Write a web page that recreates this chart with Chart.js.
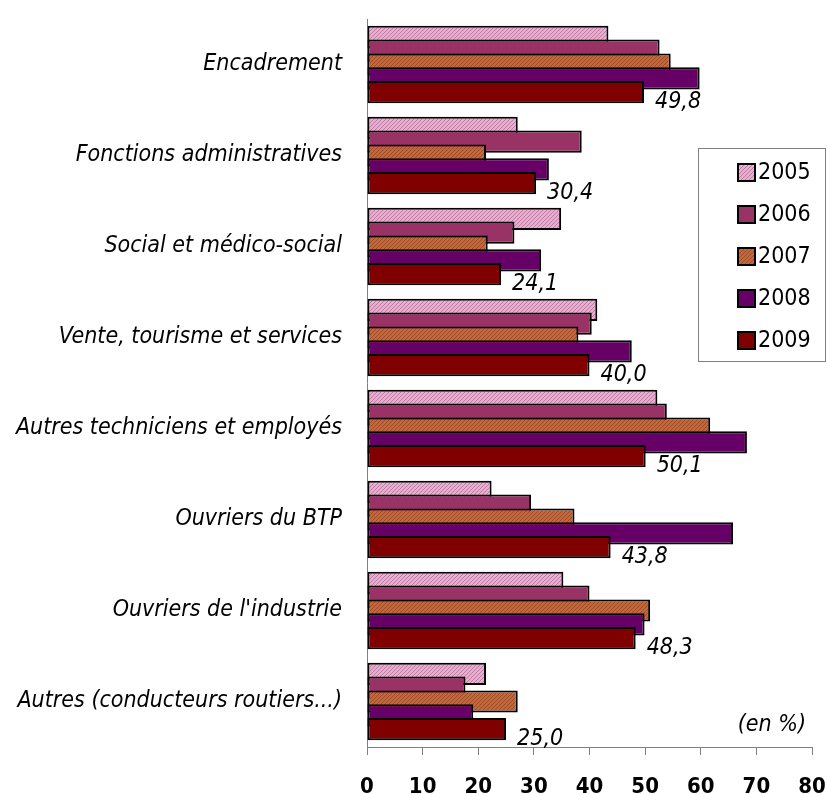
<!DOCTYPE html>
<html>
<head>
<meta charset="utf-8">
<script src="https://cdn.jsdelivr.net/npm/chart.js@4.4.1/dist/chart.umd.min.js"></script>
<style>
    html, body { margin: 0; padding: 0; background: #fff; }
    #wrap { width: 827px; height: 794px; }
</style>
</head>
<body>
<div id="wrap"><canvas id="chart" width="827" height="794"></canvas></div>
<script>
// Données (en %)
const categories = [
    "Encadrement",
    "Fonctions administratives",
    "Social et médico-social",
    "Vente, tourisme et services",
    "Autres techniciens et employés",
    "Ouvriers du BTP",
    "Ouvriers de l'industrie",
    "Autres (conducteurs routiers...)"
];
const years = ["2005", "2006", "2007", "2008", "2009"];
const v2005 = [43.4, 27.1, 34.9, 41.4, 52.2, 22.4, 35.3, 21.4];
const v2006 = [52.6, 38.6, 26.5, 40.4, 53.9, 29.5, 40.0, 17.7];
const v2007 = [54.6, 21.4, 21.7, 38.0, 61.7, 37.3, 50.9, 27.1];
const v2008 = [59.8, 32.7, 31.3, 47.6, 68.3, 65.8, 49.9, 19.1];
const v2009 = [49.8, 30.4, 24.1, 40.0, 50.1, 43.8, 48.3, 25.0];
const xTicks = [0, 10, 20, 30, 40, 50, 60, 70, 80];

const NARROW = "'Liberation Sans Narrow', 'Arial Narrow', 'DejaVu Sans Condensed', sans-serif";

// petits motifs pointillés façon Excel
function makePattern(base, dot) {
    const c = document.createElement('canvas');
    c.width = 4; c.height = 4;
    const g = c.getContext('2d');
    g.fillStyle = base;
    g.fillRect(0, 0, 4, 4);
    g.fillStyle = dot;
    g.fillRect(0, 0, 1, 1);
    g.fillRect(2, 2, 1, 1);
    g.fillRect(1, 3, 1, 1);
    g.fillRect(3, 1, 1, 1);
    return document.createElement('canvas').getContext('2d').createPattern(c, 'repeat');
}

const fills = [
    makePattern('#e3b0cf', '#c07aa2'),
    '#993366',
    makePattern('#c4683c', '#9c4a26'),
    '#660066',
    '#800000'
];
const seriesValues = [v2005, v2006, v2007, v2008, v2009];

// dessiner les séries dans l'ordre (2009 au-dessus)
const drawOrder = {
    id: 'drawOrder',
    beforeDatasetsDraw(chart) {
        chart.data.datasets.forEach((ds, i) => {
            const meta = chart.getDatasetMeta(i);
            if (meta.visible) meta.controller.draw();
        });
        return false;
    }
};

const extras = {
    id: 'extras',
    afterDraw(chart) {
        const ctx = chart.ctx;
        ctx.save();

        // étiquettes 2009
        const meta = chart.getDatasetMeta(4);
        ctx.font = "italic 23px " + NARROW;
        ctx.fillStyle = '#000';
        ctx.textAlign = 'left';
        ctx.textBaseline = 'middle';
        meta.data.forEach((bar, i) => {
            const txt = v2009[i].toFixed(1).replace('.', ',');
            ctx.fillText(txt, bar.x + 11, bar.y + 10);
        });

        // (en %)
        ctx.textAlign = 'right';
        ctx.fillText("(en %)", chart.chartArea.right - 6, 725);

        // légende
        const lx = 698, ly = 148, lw = 128, lh = 214;
        ctx.fillStyle = '#fff';
        ctx.fillRect(lx, ly, lw, lh);
        ctx.strokeStyle = '#808080';
        ctx.lineWidth = 1;
        ctx.strokeRect(lx + 0.5, ly + 0.5, lw - 1, lh - 1);
        ctx.font = "23px " + NARROW;
        ctx.textAlign = 'left';
        years.forEach((y, i) => {
            const cy = 172 + i * 42;
            ctx.fillStyle = fills[i];
            ctx.fillRect(737, cy - 9, 19, 19);
            ctx.strokeStyle = '#000';
            ctx.lineWidth = 2;
            ctx.strokeRect(738, cy - 8, 17, 17);
            ctx.fillStyle = '#000';
            ctx.fillText(y, 758, cy + 1);
        });
        ctx.restore();
    }
};

new Chart(document.getElementById('chart'), {
    type: 'bar',
    data: {
        labels: categories,
        datasets: years.map((y, i) => ({
            label: y,
            data: seriesValues[i],
            backgroundColor: fills[i],
            borderColor: '#000',
            borderWidth: 2,
            borderSkipped: false,
            categoryPercentage: 0.76,
            barPercentage: 1.6
        }))
    },
    options: {
        indexAxis: 'y',
        responsive: false,
        animation: false,
        devicePixelRatio: 1,
        layout: { padding: { top: 19, right: 15, left: 0, bottom: 0 } },
        plugins: {
            legend: { display: false },
            tooltip: { enabled: false }
        },
        scales: {
            x: {
                min: 0,
                max: 80,
                afterBuildTicks: s => { s.ticks = xTicks.map(v => ({ value: v })); },
                afterFit: s => {
                    s.height = 47;
                    s.paddingLeft = 0; s.paddingRight = 0;
                    s.paddingTop = 0; s.paddingBottom = 0;
                },
                grid: { drawOnChartArea: false, drawTicks: true, tickLength: 8, color: '#808080' },
                border: { color: '#808080', width: 1 },
                ticks: {
                    color: '#000',
                    padding: 19,
                    maxRotation: 0,
                    font: { family: NARROW, size: 22, weight: 'bold' }
                }
            },
            y: {
                afterFit: s => {
                    s.width = 367;
                    s.paddingLeft = 0; s.paddingRight = 0;
                    s.paddingTop = 0; s.paddingBottom = 0;
                },
                grid: { display: false, drawTicks: false },
                border: { color: '#808080', width: 1 },
                ticks: {
                    color: '#000',
                    padding: 25,
                    font: { family: NARROW, size: 23, style: 'italic' }
                }
            }
        }
    },
    plugins: [drawOrder, extras]
});
</script>
</body>
</html>
